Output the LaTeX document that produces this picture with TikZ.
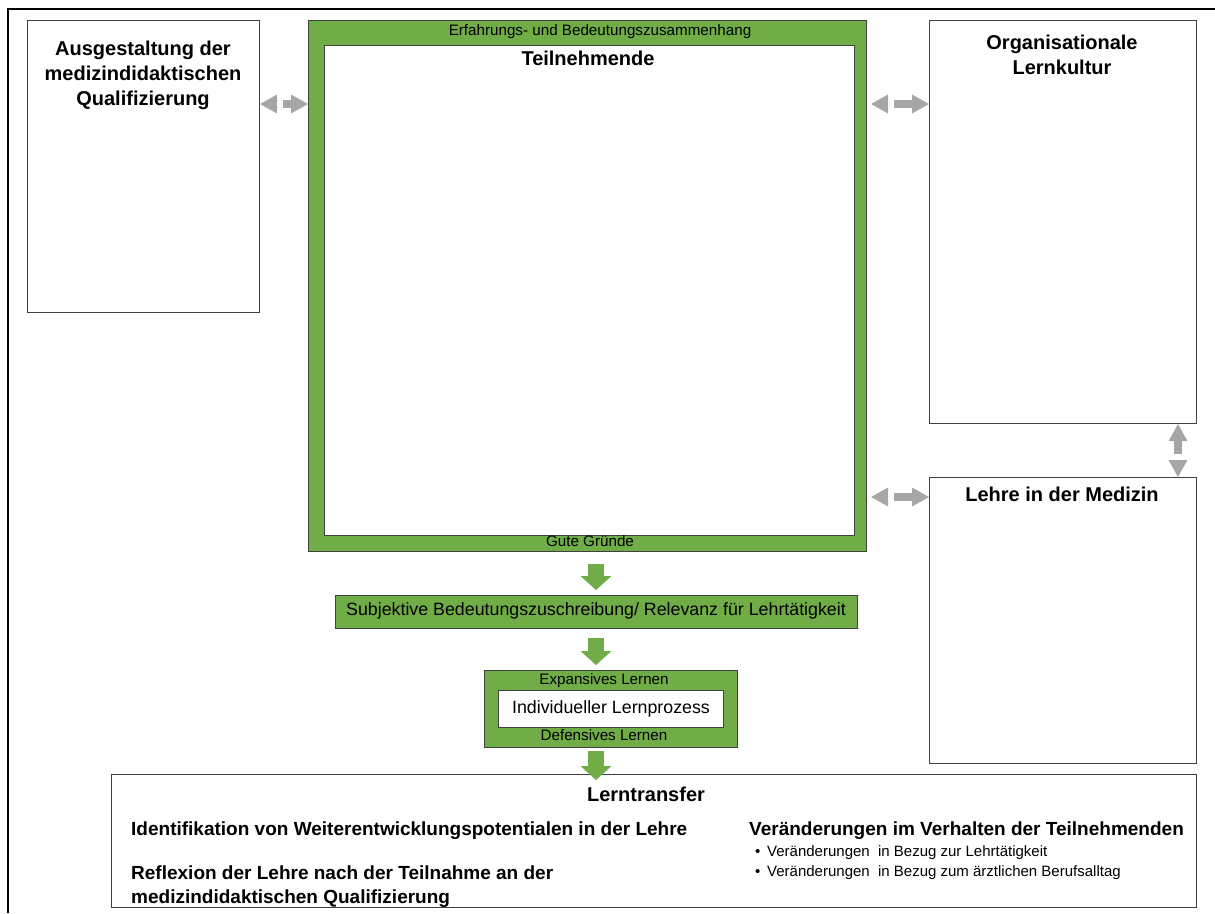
\documentclass[tikz,border=0pt]{standalone}
\usepackage{fontspec}
\setmainfont{Liberation Sans}
\usetikzlibrary{arrows.meta}
\definecolor{leafgreen}{HTML}{70AD47}
\definecolor{framegray}{HTML}{404040}
\definecolor{linkgray}{HTML}{A6A6A6}

\begin{document}
\begin{tikzpicture}[x=1pt,y=-1pt,
  box/.style={draw=framegray, line width=1.1pt, fill=white, rectangle, inner sep=0pt, anchor=north west},
  greenbox/.style={box, fill=leafgreen},
  title/.style={font=\fontsize{20}{25}\selectfont\bfseries, align=center, inner sep=0pt},
  heading/.style={font=\fontsize{19}{24}\selectfont\bfseries, inner sep=0pt, anchor=west},
  small/.style={font=\fontsize{15.2}{18}\selectfont, inner sep=0pt},
  itemtext/.style={font=\fontsize{15}{18}\selectfont, inner sep=0pt, anchor=west},
  body/.style={font=\fontsize{17.8}{21}\selectfont, inner sep=0pt},
  link/.style={draw=linkgray, line width=8pt,
    {Triangle[length=17pt,width=19pt,line width=0pt]}-{Triangle[length=17pt,width=19pt,line width=0pt]},
    dash pattern=on 0pt off 6pt on 400pt off 0pt},
  flow/.style={draw=leafgreen, line width=16pt, -{Triangle[length=14pt,width=31pt,line width=0pt]}},
]
\useasboundingbox (0,0) rectangle (1215,913);

% outer frame
\draw[line width=2.2pt] (8,913) -- (8,9) -- (1215,9);

% main boxes
\node[box, minimum width=232pt, minimum height=292pt] (ausg) at (27,20) {};
\node[greenbox, minimum width=558pt, minimum height=531pt] (ctx) at (308,20) {};
\node[box, minimum width=530pt, minimum height=490pt] (tn) at (324,45) {};
\node[box, minimum width=267pt, minimum height=403pt] (org) at (929,20) {};
\node[box, minimum width=267pt, minimum height=286pt] (lehre) at (929,477) {};
\node[greenbox, minimum width=522pt, minimum height=33pt] (subj) at (335,595) {};
\node[greenbox, minimum width=253pt, minimum height=77pt] (lern) at (484,670) {};
\node[box, minimum width=225pt, minimum height=37pt] (ilp) at (498,690) {};
\node[box, minimum width=1085pt, minimum height=133pt] (trans) at (111,774) {};

% box texts
\node[title] (ausgT) at (143,75) {Ausgestaltung der\\medizindidaktischen\\Qualifizierung};
\node[title] (orgT) at (1062,55) {Organisationale\\Lernkultur};
\node[title] (lehreT) at (1062,494) {Lehre in der Medizin};
\node[title] (tnT) at (588,58) {Teilnehmende};
\node[small] (ctxT) at (600,32) {Erfahrungs- und Bedeutungszusammenhang};
\node[small] (ctxB) at (590,541) {Gute Gründe};
\node[body] (subjT) at (596,611) {Subjektive Bedeutungszuschreibung/ Relevanz für Lehrtätigkeit};
\node[small] (lernT) at (604,681) {Expansives Lernen};
\node[small] (lernB) at (604,735) {Defensives Lernen};
\node[body] (ilpT) at (611,709) {Individueller Lernprozess};

% learning transfer contents
\node[title] (transT) at (646,794) {Lerntransfer};
\node[heading] (ident) at (131,831) {Identifikation von Weiterentwicklungspotentialen in der Lehre};
\node[heading, align=left] (refl) at (131,887) {Reflexion der Lehre nach der Teilnahme an der\\medizindidaktischen Qualifizierung};
\node[heading] (verh) at (749,831) {Veränderungen im Verhalten der Teilnehmenden};
\node[itemtext] (item1) at (755,853) {\makebox[12pt][l]{•}Veränderungen\ \ in Bezug zur Lehrtätigkeit};
\node[itemtext] (item2) at (755,873) {\makebox[12pt][l]{•}Veränderungen\ \ in Bezug zum ärztlichen Berufsalltag};

% reference lines for connectors
\coordinate (ly1) at (0,104);
\coordinate (ly2) at (0,497);
\coordinate (lx) at (1178,0);
\coordinate (fx) at (596,0);

% grey two-way links
\draw[link] (ausg.east |- ly1) -- (ctx.west |- ly1);
\draw[link, shorten <=4pt] (ctx.east |- ly1) -- (org.west |- ly1);
\draw[link, shorten <=4pt] (ctx.east |- ly2) -- (lehre.west |- ly2);
\draw[link] (lx |- lehre.north) -- (lx |- org.south);

% green flow arrows
\draw[flow, shorten <=12pt, shorten >=5pt] (fx |- ctx.south) -- (fx |- subj.north);
\draw[flow, shorten <=9pt, shorten >=5pt] (fx |- subj.south) -- (fx |- lern.north);
\draw[flow, shorten <=3pt, shorten >=-6pt] (fx |- lern.south) -- (fx |- trans.north);
\end{tikzpicture}
\end{document}
